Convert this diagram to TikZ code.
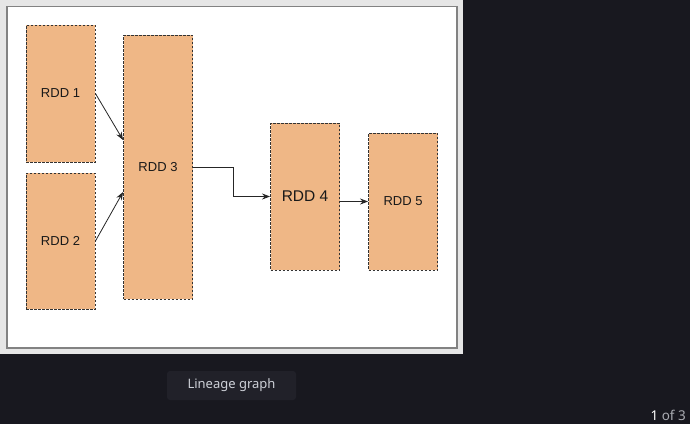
\documentclass[tikz,border=0pt]{standalone}
\usepackage{fontspec}
\setmainfont{Liberation Sans}
\newfontfamily\uifont{Noto Sans}
\usetikzlibrary{arrows.meta}
\definecolor{bgdark}{RGB}{24,24,31}
\definecolor{panelgray}{RGB}{230,230,230}
\definecolor{framegray}{RGB}{130,130,130}
\definecolor{rddfill}{RGB}{239,183,134}
\definecolor{btnfill}{RGB}{33,33,41}
\definecolor{btntext}{RGB}{205,208,215}
\definecolor{pagegray}{RGB}{170,172,178}
\tikzset{
  rdd/.style={draw=black!80, fill=rddfill, dash pattern=on 2.5pt off 1.5pt, line width=0.9pt,
    minimum width=69pt, inner sep=0pt, font=\fontsize{13}{15}\selectfont, text=black!90},
  conn/.style={draw=black!85, line width=0.8pt, -{Stealth[length=8pt,width=6pt]}},
}
\begin{document}
\begin{tikzpicture}[x=1pt,y=-1pt]
\useasboundingbox (0,0) rectangle (690,424);
\fill[bgdark] (0,0) rectangle (690,424);
\fill[panelgray] (0,0) rectangle (463,354);
\filldraw[fill=white, draw=framegray, line width=1.2pt] (7,6.5) rectangle (457,348);
% nodes
\node[rdd, minimum height=137pt, text depth=-1pt] (r1) at (60.5,93.5) {RDD 1};
\node[rdd, minimum height=136pt, text depth=-1pt] (r2) at (60.5,241) {RDD 2};
\node[rdd, minimum height=264pt, text depth=-1pt] (r3) at (158,167) {RDD 3};
\node[rdd, minimum height=147pt, text depth=-1pt, font=\fontsize{15.5}{18}\selectfont] (r4) at (305,196.5) {RDD 4};
\node[rdd, minimum height=137pt, text depth=-1pt] (r5) at (403,201.5) {RDD 5};
% connectors
\draw[conn] (r1.east) -- ([yshift=27pt]r3.west);
\draw[conn] (r2.east) -- ([yshift=-25pt]r3.west);
\draw[conn] (r3.east) -- ++(40,0) |- (r4.west);
\draw[conn] (r4.east |- r5.west) -- (r5.west);
% caption button
\node[fill=btnfill, rounded corners=3pt, minimum width=129pt, minimum height=29pt, inner sep=0pt,
  text=btntext, font=\uifont\fontsize{13}{15}\selectfont] (cap) at (231.5,385.5) {Lineage graph};
% page counter
\node[anchor=base east, inner sep=0pt, font=\uifont\fontsize{13.5}{15}\selectfont, text=pagegray] (pg) at (686,420.5) {\textcolor{white}{\bfseries 1} of 3};
\end{tikzpicture}
\end{document}
